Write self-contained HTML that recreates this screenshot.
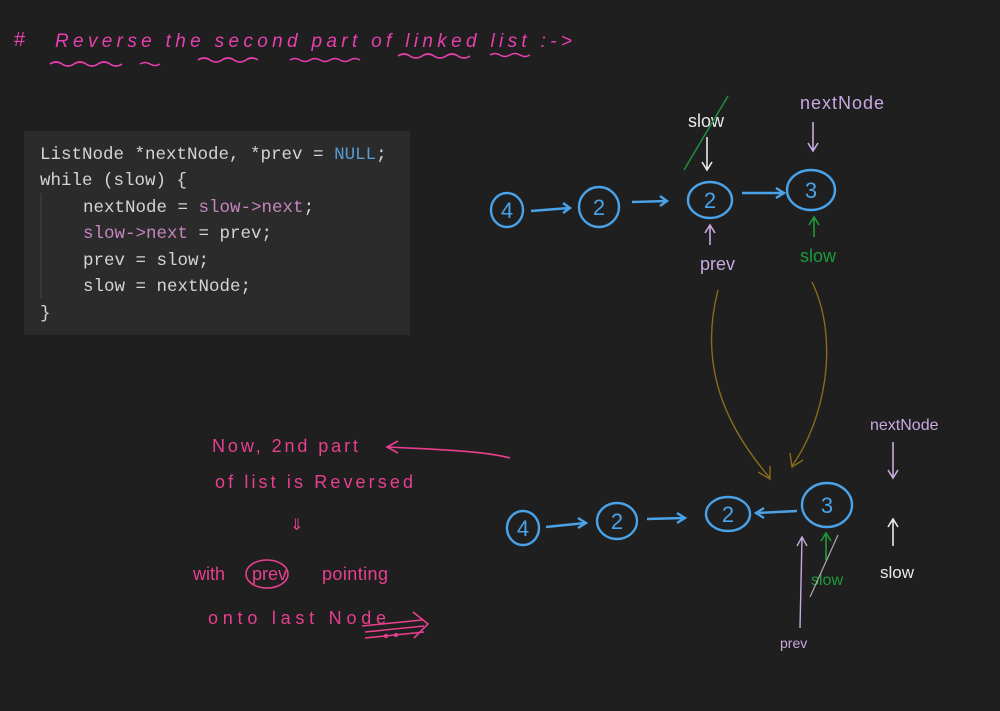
<!DOCTYPE html>
<html><head><style>
html,body{margin:0;padding:0;background:#1f1f1f;width:1000px;height:711px;overflow:hidden}
svg{display:block}
.hw{font-family:"Liberation Sans",sans-serif}
.code{font-family:"Liberation Mono",monospace;font-size:17.5px;fill:#d4d4d4}
</style></head><body>
<svg width="1000" height="711" viewBox="0 0 1000 711" xmlns="http://www.w3.org/2000/svg">
<rect width="1000" height="711" fill="#1f1f1f"/>
<g fill="none" stroke="#e83fb0" stroke-width="1.6">
<text x="14" y="46" class="hw" font-size="20" fill="#e83fb0" stroke="none">#</text>
<text x="55" y="47" class="hw" font-size="19" fill="#e83fb0" stroke="none" letter-spacing="3" font-style="italic" textLength="520">Reverse   the   second   part  of   linked  list  :-&gt;</text>
<path d="M50 64 q6 -4 12 0 t12 0 t12 0 t12 0 t12 0 t12 0 M140 64 q5 -3 10 0 t10 0 M198 60 q6 -4 12 0 t12 0 t12 0 t12 0 t12 0 M290 60 q5 -3 10 0 t10 0 t10 0 t10 0 t10 0 t10 0 t10 0 M398 56 q6 -4 12 0 t12 0 t12 0 t12 0 t12 0 t12 0 M490 55 q5 -3 10 0 t10 0 t10 0 t10 0"/>
</g>
<rect x="24" y="131" width="386" height="204" fill="#2b2b2b"/>
<line x1="41" y1="193" x2="41" y2="298" stroke="#444" stroke-width="1"/>
<text class="code" x="40" y="159">ListNode *nextNode, *prev = <tspan fill="#569cd6">NULL</tspan>;</text>
<text class="code" x="40" y="185">while (slow) {</text>
<text class="code" x="83" y="212">nextNode = <tspan fill="#c586c0">slow-&gt;next</tspan>;</text>
<text class="code" x="83" y="238"><tspan fill="#c586c0">slow-&gt;next</tspan> = prev;</text>
<text class="code" x="83" y="265">prev = slow;</text>
<text class="code" x="83" y="291">slow = nextNode;</text>
<text class="code" x="40" y="318">}</text>
<g fill="none" stroke="#4aa3e8" stroke-width="2.4">
<ellipse cx="507" cy="210" rx="16" ry="17"/>
<ellipse cx="599" cy="207" rx="20" ry="20"/>
<ellipse cx="710" cy="200" rx="22" ry="18"/>
<ellipse cx="811" cy="190" rx="24" ry="20"/>
<path d="M531 211 L569 208 M563 203 L570 208 L563 213"/>
<path d="M632 202 L667 201 M660 196 L667 201 L660 206"/>
<path d="M742 193 L783 193 M776 188 L784 193 L776 198"/>
<ellipse cx="523" cy="528" rx="16" ry="17"/>
<ellipse cx="617" cy="521" rx="20" ry="18"/>
<ellipse cx="728" cy="514" rx="22" ry="17"/>
<ellipse cx="827" cy="505" rx="25" ry="22"/>
<path d="M546 527 L585 523 M578 518 L586 523 L578 528"/>
<path d="M647 519 L684 518 M677 513 L685 518 L677 523"/>
<path d="M797 511 L757 513 M764 508 L756 513 L764 518"/>
</g>
<g font-family="Liberation Sans,sans-serif" fill="#4aa3e8" font-size="22" text-anchor="middle">
<text x="507" y="218">4</text><text x="599" y="215">2</text><text x="710" y="208">2</text><text x="811" y="198">3</text>
<text x="523" y="536">4</text><text x="617" y="529">2</text><text x="728" y="522">2</text><text x="827" y="513">3</text>
</g>
<text x="688" y="127" class="hw" font-size="18" fill="#e8e8e8">slow</text>
<line x1="684" y1="170" x2="728" y2="96" stroke="#1e8a3a" stroke-width="1.6"/>
<path d="M707 137 L707 170 M702 162 L707 170 L712 162" stroke="#e8e8e8" stroke-width="1.6" fill="none"/>
<text x="800" y="109" class="hw" font-size="18" fill="#c8a8e0" letter-spacing="1">nextNode</text>
<path d="M813 122 L813 150 M808 143 L813 151 L818 143" stroke="#c8a8e0" stroke-width="1.6" fill="none"/>
<path d="M710 245 L710 226 M705 233 L710 225 L715 233" stroke="#c8a8e0" stroke-width="1.6" fill="none"/>
<text x="700" y="270" class="hw" font-size="18" fill="#c8a8e0">prev</text>
<path d="M814 237 L814 218 M809 225 L814 217 L819 225" stroke="#1e9a3a" stroke-width="1.6" fill="none"/>
<text x="800" y="262" class="hw" font-size="18" fill="#1e9a3a">slow</text>
<g stroke="#8a6a1c" stroke-width="1.4" fill="none">
<path d="M718 290 C700 360 720 420 770 478 M758 472 L770 479 L770 466"/>
<path d="M812 282 C840 340 825 420 792 466 M790 453 L792 467 L803 460"/>
</g>
<text x="870" y="430" class="hw" font-size="16" fill="#c8a8e0">nextNode</text>
<path d="M893 442 L893 478 M888 470 L893 478 L898 470" stroke="#c8a8e0" stroke-width="1.6" fill="none"/>
<path d="M893 546 L893 520 M888 527 L893 519 L898 527" stroke="#e8e8e8" stroke-width="1.6" fill="none"/>
<text x="880" y="578" class="hw" font-size="17" fill="#e8e8e8">slow</text>
<path d="M826 560 L826 534 M821 541 L826 533 L831 541" stroke="#1e9a3a" stroke-width="1.6" fill="none"/>
<text x="811" y="585" class="hw" font-size="16" fill="#1e9a3a">slow</text>
<line x1="810" y1="597" x2="838" y2="535" stroke="#aaa" stroke-width="1.2"/>
<path d="M800 628 L802 538 M797 546 L802 537 L807 546" stroke="#c8a8e0" stroke-width="1.4" fill="none"/>
<text x="780" y="648" class="hw" font-size="14" fill="#c8a8e0">prev</text>
<g class="hw" fill="#e83f8f" font-size="18">
<text x="212" y="452" textLength="146">Now,  2nd  part</text>
<text x="215" y="488" textLength="198">of  list  is  Reversed</text>
<text x="290" y="530" font-size="16">⇓</text>
<text x="193" y="580">with</text>
<text x="252" y="580">prev</text>
<text x="322" y="580" textLength="66">pointing</text>
<text x="208" y="624" textLength="178">onto   last   Node</text>
</g>
<g stroke="#e83f8f" stroke-width="1.6" fill="none">
<ellipse cx="267" cy="574" rx="21" ry="14"/>
<path d="M510 458 C480 450 420 449 388 447 M398 441 L387 447 L398 453"/>
<path d="M362 626 L422 620 M365 632 L424 626 M365 638 L424 632 M413 612 L428 624 L414 638"/>
<circle cx="386" cy="636" r="1.3" fill="#e83f8f"/><circle cx="396" cy="635" r="1.3" fill="#e83f8f"/>
</g>
</svg>
</body></html>
